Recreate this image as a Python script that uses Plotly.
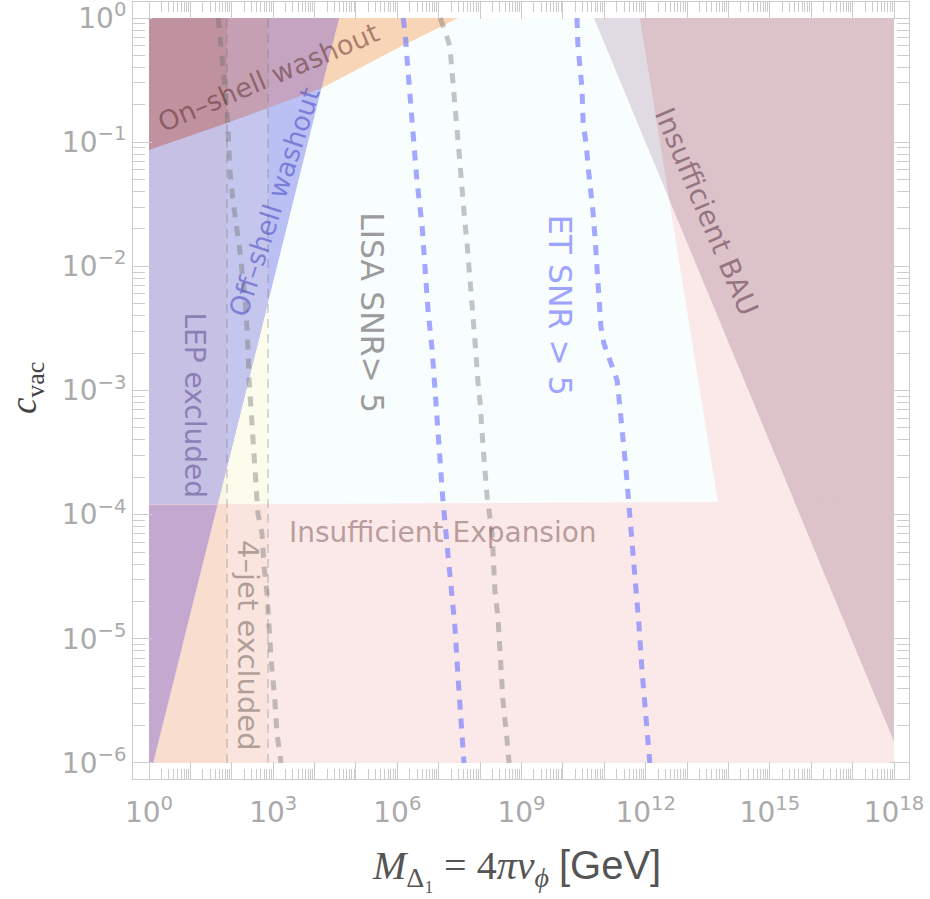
import itertools
import numpy as np
import plotly.graph_objects as go

# ---------------- data (log10 units) ----------------
LOGM_LEP = 1.885           # LEP exclusion boundary, log10(M/GeV)
LOGM_4JET = 2.875          # 4-jet exclusion boundary
OFFSHELL_LOGM = [0.10, 4.59]          # off-shell washout boundary line
OFFSHELL_LOGC = [-6.0, 0.0]
ONSHELL_LOGM = [0.0, 1.885, 4.18, 6.06, 7.47]     # on-shell washout boundary
ONSHELL_LOGC = [-1.063, -0.846, -0.564, -0.234, 0.0]
EXPANSION_LOGM = [0.0, 18.0]          # insufficient expansion (low c_vac)
EXPANSION_LOGC = [-3.92, -3.89]
EXPANSION_HI_LOGM = [11.86, 13.75]    # insufficient expansion (high M)
EXPANSION_HI_LOGC = [0.0, -3.906]
BAU_LOGM = [10.75, 17.98]             # insufficient BAU boundary
BAU_LOGC = [0.0, -5.807]

LISA_LO_LOGM = [1.67, 1.72, 1.79, 1.89, 1.96, 2.03, 2.13, 2.20, 2.32, 2.37, 2.42, 2.51,
                2.59, 2.63, 2.73, 2.78, 2.85, 2.88, 2.95, 3.04, 3.09, 3.17, 3.19]
LISA_LO_LOGC = [0.0, -0.15, -0.40, -0.77, -1.25, -1.47, -1.68, -1.89, -2.27, -2.51, -2.92, -3.37,
                -3.78, -3.99, -4.15, -4.42, -4.63, -4.85, -5.17, -5.49, -5.76, -5.95, -6.0]
LISA_HI_LOGM = [7.03, 7.15, 7.27, 7.32, 7.34, 7.44, 7.51, 7.54, 7.59, 7.63, 7.68, 7.76, 7.83,
                7.88, 7.95, 8.00, 8.07, 8.17, 8.29, 8.31, 8.36, 8.43, 8.48, 8.55, 8.65, 8.70]
LISA_HI_LOGC = [0.0, -0.10, -0.23, -0.40, -0.56, -0.89, -1.16, -1.32, -1.48, -1.64, -1.80, -2.13,
                -2.30, -2.62, -2.94, -3.10, -3.45, -3.86, -4.15, -4.36, -4.63, -4.82, -5.15,
                -5.49, -5.81, -6.0]
ET_LO_LOGM = [6.14, 6.19, 6.23, 6.31, 6.38, 6.47, 6.60, 6.67, 6.74, 6.84, 6.91, 6.98, 7.10,
              7.22, 7.32, 7.39, 7.47, 7.54, 7.61]
ET_LO_LOGC = [0.0, -0.12, -0.31, -0.66, -0.98, -1.30, -1.68, -2.01, -2.35, -2.67, -3.02, -3.40,
              -3.88, -4.31, -4.61, -4.90, -5.33, -5.65, -6.0]
ET_HI_LOGM = [10.34, 10.36, 10.41, 10.46, 10.49, 10.56, 10.61, 10.68, 10.73, 10.78, 10.82, 10.85,
              10.90, 10.92, 10.99, 11.14, 11.31, 11.36, 11.43, 11.52, 11.60, 11.69, 11.77, 11.84,
              11.91, 11.98, 12.08, 12.10]
ET_HI_LOGC = [0.0, -0.20, -0.39, -0.56, -0.85, -1.01, -1.20, -1.39, -1.57, -1.79, -2.01, -2.19,
              -2.33, -2.49, -2.62, -2.77, -2.92, -3.08, -3.29, -3.62, -3.94, -4.26, -4.58, -4.90,
              -5.25, -5.57, -5.90, -6.0]

X_TICK_EXP = list(range(0, 19))
Y_TICK_EXP = list(range(-6, 1))

# colours of every overlap combination (R on-shell, Y 4-jet, L LEP, O off-shell,
# P insufficient expansion, B insufficient BAU)
COLORS = {
    "": (248, 253, 254),
    "P": (251, 232, 232),
    "B": (224, 218, 226),
    "P+B": (220, 195, 202),
    "Y": (252, 252, 236),
    "Y+L": (250, 246, 228),
    "Y+P": (250, 228, 222),
    "Y+L+P": (249, 221, 206),
    "O": (186, 192, 244),
    "Y+O": (196, 198, 238),
    "Y+L+O": (197, 192, 228),
    "Y+L+O+P": (196, 168, 208),
    "R": (248, 213, 182),
    "R+O": (196, 164, 192),
    "R+Y+O": (196, 160, 178),
    "R+Y+L+O": (192, 146, 160),
}

# ---------------- geometry helpers ----------------
BOX = [(0.0, -6.0), (18.0, -6.0), (18.0, 0.0), (0.0, 0.0)]


def area(P):
    s = 0.0
    for i in range(len(P)):
        x1, y1 = P[i]
        x2, y2 = P[(i + 1) % len(P)]
        s += x1 * y2 - x2 * y1
    return s / 2


def ccw(P):
    return P if area(P) > 0 else P[::-1]


def clip(subj, cp):
    out = list(subj)
    n = len(cp)
    for i in range(n):
        a, b = cp[i], cp[(i + 1) % n]
        inp, out = out, []
        if not inp:
            return []

        def side(p):
            return (b[0] - a[0]) * (p[1] - a[1]) - (b[1] - a[1]) * (p[0] - a[0])

        s = inp[-1]
        for e in inp:
            ss, se = side(s), side(e)
            if se >= 0:
                if ss < 0:
                    t = ss / (ss - se)
                    out.append((s[0] + t * (e[0] - s[0]), s[1] + t * (e[1] - s[1])))
                out.append(e)
            elif ss >= 0:
                t = ss / (ss - se)
                out.append((s[0] + t * (e[0] - s[0]), s[1] + t * (e[1] - s[1])))
            s = e
    return out


def halfplane(us, vs, sgn):
    p0, p1 = (us[0], vs[0]), (us[-1], vs[-1])
    d = (p1[0] - p0[0], p1[1] - p0[1])
    A = (p0[0] - 50 * d[0], p0[1] - 50 * d[1])
    Bp = (p1[0] + 50 * d[0], p1[1] + 50 * d[1])
    poly = [A, Bp, (Bp[0] + sgn * 1000, Bp[1]), (A[0] + sgn * 1000, A[1])]
    return ccw(clip(poly, BOX))


def rect_left(u):
    return [(0.0, -6.0), (u, -6.0), (u, 0.0), (0.0, 0.0)]


regions = {
    "R": list(zip(ONSHELL_LOGM, ONSHELL_LOGC)) + [(0.0, 0.0)],
    "Y": rect_left(LOGM_4JET),
    "L": rect_left(LOGM_LEP),
    "O": halfplane(OFFSHELL_LOGM, OFFSHELL_LOGC, -1),
    "PA": ccw([(0.0, -6.0), (18.0, -6.0), (EXPANSION_LOGM[1], EXPANSION_LOGC[1]),
               (EXPANSION_LOGM[0], EXPANSION_LOGC[0])]),
    "PB": halfplane(EXPANSION_HI_LOGM, EXPANSION_HI_LOGC, +1),
    "B": halfplane(BAU_LOGM, BAU_LOGC, +1),
}
ORDER = ["R", "Y", "L", "O", "PA", "PB", "B"]
CANON = ["R", "Y", "L", "O", "P", "B"]


def rgb(c):
    return "rgb(%d,%d,%d)" % c


fig = go.Figure()


def add_poly(P, col):
    u = np.array([p[0] for p in P] + [P[0][0]])
    v = np.array([p[1] for p in P] + [P[0][1]])
    fig.add_trace(go.Scatter(x=10 ** u, y=10 ** v, mode="lines", fill="toself",
                             fillcolor=rgb(col), line=dict(width=0, color=rgb(col)),
                             hoverinfo="skip", showlegend=False))


add_poly(BOX, COLORS[""])
subsets = []
for k in range(1, len(ORDER) + 1):
    for comb in itertools.combinations(ORDER, k):
        subsets.append(comb)
for comb in subsets:
    P = regions[comb[0]]
    for key in comb[1:]:
        P = clip(P, regions[key])
        if not P:
            break
    if not P or abs(area(P)) < 1e-5:
        continue
    names = set("P" if c in ("PA", "PB") else c for c in comb)
    key = "+".join(c for c in CANON if c in names)
    col = COLORS.get(key, COLORS["P+B"] if "B" in names else COLORS["P"])
    add_poly(P, col)

# thin dashed exclusion boundaries
for lm in (LOGM_LEP, LOGM_4JET):
    fig.add_trace(go.Scatter(x=[10 ** lm, 10 ** lm], y=[1e-6, 1.0], mode="lines",
                             line=dict(color="rgba(110,110,110,0.38)", width=1.3, dash="9px,6px"),
                             hoverinfo="skip", showlegend=False))

# GW sensitivity curves
for lm, lc, col in [(LISA_LO_LOGM, LISA_LO_LOGC, "rgba(110,110,110,0.40)"),
                    (LISA_HI_LOGM, LISA_HI_LOGC, "rgba(110,110,110,0.40)"),
                    (ET_LO_LOGM, ET_LO_LOGC, "rgba(125,130,255,0.7)"),
                    (ET_HI_LOGM, ET_HI_LOGC, "rgba(125,130,255,0.7)")]:
    fig.add_trace(go.Scatter(x=10 ** np.array(lm), y=10 ** np.array(lc), mode="lines",
                             line=dict(color=col, width=5, dash="10px,9px"),
                             hoverinfo="skip", showlegend=False))

LBL = "DejaVu Sans"
labels = [
    ("On–shell washout", 2.875, -0.483, -23, "rgba(90,40,40,0.5)", 27),
    ("Off–shell washout", 3.04, -1.48, -72, "rgba(60,60,190,0.5)", 27),
    ("LEP excluded", 1.11, -3.12, 90, "rgba(90,70,140,0.55)", 28),
    ("4–jet excluded", 2.39, -5.05, 90, "rgba(100,90,80,0.5)", 29),
    ("LISA SNR> 5", 5.39, -2.37, 90, "#9c9c9c", 31.5),
    ("ET SNR > 5", 9.93, -2.31, 90, "#9ea3ff", 31.5),
    ("Insufficient Expansion", 7.10, -4.14, 0, "rgba(130,90,90,0.55)", 28),
    ("Insufficient BAU", 13.46, -1.56, 67, "rgba(90,50,70,0.55)", 28),
]
for txt, x, y, ang, col, sz in labels:
    fig.add_annotation(x=x, y=y, xref="x", yref="y", text=txt, showarrow=False,
                       textangle=ang, xanchor="center", yanchor="middle",
                       font=dict(family=LBL, size=sz, color=col))

fig.add_annotation(xref="paper", yref="paper", x=-0.138, y=0.503, text="<i>c</i><sub>vac</sub>",
                   showarrow=False, textangle=-90, xanchor="center", yanchor="middle",
                   font=dict(family="Liberation Serif", size=37, color="#444444"))
fig.add_annotation(xref="paper", yref="paper", x=0.4936, y=-0.114, xanchor="center",
                   yanchor="middle",
                   text="<i>M</i><sub>Δ₁</sub> = 4<i>πv</i><sub><i>ϕ</i></sub> "
                        "<span style=\"font-family:'Liberation Sans'\">[GeV]</span>",
                   showarrow=False,
                   font=dict(family="Liberation Serif", size=40, color="#555555"))

minor_x = [m * 10.0 ** k for k in range(0, 18) for m in range(2, 10)]
minor_y = [m * 10.0 ** k for k in range(-6, 0) for m in range(2, 10)]
tickfont = dict(family="DejaVu Sans", size=28, color="#aaaaaa")
fig.update_xaxes(type="log", range=[-0.387, 18.362], automargin=False,
                 tickvals=[10.0 ** k for k in X_TICK_EXP],
                 ticktext=[("10<sup>%d</sup>" % k) if k % 3 == 0 else "" for k in X_TICK_EXP],
                 ticks="inside", ticklen=17, tickwidth=1, tickcolor="#cccccc",
                 showline=True, linecolor="#cccccc", linewidth=1, mirror="allticks",
                 showgrid=False, zeroline=False, tickfont=tickfont, ticklabelstandoff=8,
                 ticklabeloverflow="allow",
                 minor=dict(tickvals=minor_x, ticks="inside", ticklen=10, tickcolor="#cccccc",
                            tickwidth=1, showgrid=False))
fig.update_yaxes(type="log", range=[-6.129, 0.129], automargin=False,
                 tickvals=[10.0 ** k for k in Y_TICK_EXP],
                 ticktext=[("10<sup>%s</sup>" % (str(k).replace("-", "−"))) for k in Y_TICK_EXP],
                 ticks="inside", ticklen=19, tickwidth=1, tickcolor="#cccccc",
                 showline=True, linecolor="#cccccc", linewidth=1, mirror="allticks",
                 showgrid=False, zeroline=False, tickfont=tickfont, ticklabelstandoff=0,
                 ticklabeloverflow="allow",
                 minor=dict(tickvals=minor_y, ticks="inside", ticklen=12, tickcolor="#cccccc",
                            tickwidth=1, showgrid=False))
fig.update_layout(width=930, height=899, margin=dict(l=133, r=21, t=2, b=120),
                  plot_bgcolor="white", paper_bgcolor="white", showlegend=False)
fig.write_html("out.html", config={"displayModeBar": False},
               post_script="document.body.style.margin='0px';document.body.style.overflow='hidden';")
